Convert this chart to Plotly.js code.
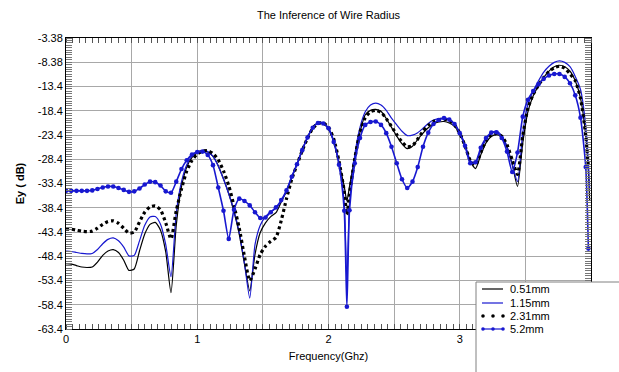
<!DOCTYPE html>
<html>
<head>
<meta charset="utf-8">
<script src="https://cdn.plot.ly/plotly-3.0.1.min.js"></script>
<style>html,body{margin:0;padding:0;background:#fff;}#chart{width:619px;height:372px;}</style>
</head>
<body>
<div id="chart"></div>
<script>
const freq = [0.00,0.04,0.08,0.12,0.16,0.20,0.24,0.28,0.32,0.36,0.40,0.44,0.48,0.52,0.56,0.60,0.64,0.68,0.72,0.76,
0.80,0.84,0.88,0.92,0.96,1.00,1.04,1.08,1.12,1.16,1.20,1.24,1.28,1.32,1.36,1.40,1.44,1.48,1.52,1.56,
1.60,1.64,1.68,1.72,1.76,1.80,1.84,1.88,1.92,1.96,2.00,2.04,2.08,2.12,2.14,2.16,2.20,2.24,2.28,2.32,
2.36,2.40,2.44,2.48,2.52,2.56,2.60,2.64,2.68,2.72,2.76,2.80,2.84,2.88,2.92,2.96,3.00,3.04,3.08,3.12,
3.16,3.20,3.24,3.28,3.32,3.36,3.40,3.44,3.48,3.52,3.56,3.60,3.64,3.68,3.72,3.76,3.80,3.84,3.88,3.92,
3.96,3.98,3.99];

const ey051 = [-49.9,-50.0,-50.3,-50.6,-50.7,-50.6,-49.6,-48.2,-47.3,-47.0,-47.6,-49.2,-51.3,-51.0,-47.3,-43.8,-41.8,-41.4,-43.0,-47.5,
-55.9,-42.0,-34.0,-30.0,-28.0,-27.1,-26.7,-26.9,-27.8,-29.7,-32.4,-35.5,-39.2,-43.8,-50.0,-55.5,-48.0,-43.5,-41.5,-40.2,
-39.4,-37.2,-35.0,-32.2,-29.4,-26.5,-23.9,-21.9,-20.9,-21.0,-22.2,-24.8,-29.2,-34.0,-37.0,-34.0,-28.0,-22.8,-19.2,-18.3,
-18.1,-18.5,-20.0,-21.8,-23.6,-25.2,-26.2,-25.7,-24.3,-23.0,-21.9,-21.1,-20.7,-20.6,-20.9,-21.6,-23.2,-25.5,-28.8,-30.3,
-27.5,-25.0,-23.7,-23.3,-23.8,-25.8,-29.5,-34.0,-25.0,-18.5,-15.3,-13.2,-11.5,-10.2,-9.3,-9.0,-9.3,-10.2,-12.2,-15.8,
-23.5,-31.0,-37.0];

const ey115 = [-47.3,-47.4,-47.6,-47.8,-47.9,-47.8,-47.0,-45.8,-44.9,-44.6,-45.2,-46.5,-48.3,-48.2,-45.2,-42.0,-40.3,-40.2,-41.8,-46.0,
-52.6,-39.5,-33.0,-29.5,-27.7,-26.9,-26.6,-26.8,-27.8,-29.8,-32.5,-35.5,-39.0,-43.5,-49.9,-57.0,-46.0,-42.0,-40.2,-39.2,
-38.5,-37.0,-34.8,-32.0,-29.3,-26.4,-23.8,-21.8,-20.8,-20.9,-22.0,-24.6,-29.0,-37.5,-53.7,-37.5,-27.5,-21.8,-18.6,-17.2,
-16.8,-17.2,-18.3,-19.9,-21.3,-22.6,-23.5,-23.4,-22.9,-22.0,-21.0,-20.3,-20.0,-19.9,-20.2,-21.1,-22.8,-25.3,-28.6,-29.3,
-26.5,-24.3,-23.0,-22.6,-23.5,-25.8,-29.5,-33.0,-23.0,-17.0,-14.3,-12.2,-10.4,-9.2,-8.4,-8.1,-8.4,-9.3,-11.3,-14.0,
-21.5,-29.0,-34.5];

const ey231 = [-42.8,-42.8,-43.0,-43.2,-43.3,-43.2,-42.6,-41.8,-41.2,-41.1,-41.6,-42.6,-43.6,-43.4,-41.3,-39.3,-38.2,-38.0,-38.8,-41.5,
-44.8,-39.0,-34.5,-30.8,-28.6,-27.3,-26.7,-26.6,-27.2,-28.5,-30.8,-33.8,-38.0,-42.6,-48.5,-53.4,-51.0,-48.0,-46.3,-45.3,
-44.5,-41.0,-36.5,-32.5,-29.5,-26.6,-24.0,-22.0,-21.0,-20.9,-21.8,-24.2,-28.8,-35.0,-39.8,-35.5,-28.3,-22.8,-19.8,-18.6,
-18.3,-18.7,-20.0,-21.6,-23.3,-24.8,-25.8,-25.6,-24.2,-22.6,-21.4,-20.6,-20.2,-20.1,-20.4,-21.3,-23.0,-25.6,-28.6,-29.6,
-27.0,-24.6,-23.4,-23.1,-23.6,-25.4,-28.5,-31.5,-23.5,-17.8,-15.0,-13.1,-11.5,-10.3,-9.5,-9.2,-9.6,-10.8,-12.2,-15.8,
-23.5,-30.0,null];

const ey52 = [-34.9,-34.9,-34.9,-34.9,-34.9,-34.8,-34.5,-34.2,-34.0,-34.0,-34.3,-34.7,-35.1,-35.0,-34.4,-33.6,-33.0,-33.1,-33.8,-35.0,
-35.3,-33.0,-30.4,-28.6,-27.4,-26.9,-26.8,-27.5,-29.6,-34.2,-39.0,-44.8,-38.8,-36.5,-37.0,-37.9,-39.3,-40.5,-40.4,-39.3,
-38.3,-36.8,-34.8,-32.0,-29.4,-26.5,-23.9,-21.9,-20.9,-21.0,-22.0,-24.8,-29.5,-39.0,-58.8,-38.9,-29.2,-24.0,-21.3,-20.7,
-20.6,-21.3,-23.0,-25.8,-29.2,-32.5,-34.3,-33.0,-30.0,-25.8,-22.9,-21.1,-20.3,-19.9,-20.2,-21.1,-23.0,-25.6,-29.2,-29.0,
-26.0,-24.0,-22.9,-22.8,-24.0,-26.8,-31.0,-27.0,-19.6,-16.1,-14.3,-12.9,-11.8,-11.1,-10.8,-10.8,-11.4,-12.7,-15.2,-19.8,
-30.0,-46.8,null];

const seriesNames = ['0.51mm','1.15mm','2.31mm','5.2mm'];
const yTickVals = [-3.38,-8.38,-13.38,-18.38,-23.38,-28.38,-33.38,-38.38,-43.38,-48.38,-53.38,-58.38,-63.38];
const yTickText = ['-3.38','-8.38','-13.4','-18.4','-23.4','-28.4','-33.4','-38.4','-43.4','-48.4','-53.4','-58.4','-63.4'];
const xTickVals = [0,0.5,1,1.5,2,2.5,3,3.5];
const xTickText = ['0','','1','','2','','3',''];

const BLUE = '#1818d0';
const traces = [
  {x: freq, y: ey051, name: seriesNames[0], mode:'lines', line:{color:'#000000', width:1.2, shape:'spline', smoothing:0.6}},
  {x: freq, y: ey115, name: seriesNames[1], mode:'lines', line:{color:BLUE, width:1.2, shape:'spline', smoothing:0.6}},
  {x: freq, y: ey231, name: seriesNames[2], mode:'lines', line:{color:'#000000', width:3.2, dash:'3px,3px', shape:'spline', smoothing:0.6}},
  {x: freq, y: ey52, name: seriesNames[3], mode:'lines+markers', line:{color:BLUE, width:1.6, shape:'spline', smoothing:0.6}, marker:{color:BLUE, size:4.6}}
];

// custom legend geometry (pixel -> paper)
const L = 66, T = 38, PW = 525, PH = 291;
const px = v => (v - L) / PW;
const py = v => (T + PH - v) / PH;
const shapes = [
  {type:'rect', xref:'paper', yref:'paper', x0:px(476), x1:px(640), y0:py(400), y1:py(282), fillcolor:'#ffffff', line:{color:'#808080', width:1}, layer:'above'}
];
const annotations = [];
const rowY = [289, 303, 316, 329];
seriesNames.forEach((nm, i) => {
  const yy = py(rowY[i]);
  if (i === 0 || i === 1 || i === 3) {
    shapes.push({type:'line', xref:'paper', yref:'paper', x0:px(482), x1:px(503), y0:yy, y1:yy, line:{color: i===0 ? '#000' : BLUE, width:1.2}, layer:'above'});
  }
  if (i === 2 || i === 3) {
    [483, 493, 503].forEach(cx => {
      const r = 1.8;
      shapes.push({type:'circle', xref:'paper', yref:'paper', x0:px(cx - r), x1:px(cx + r), y0:py(rowY[i] + r), y1:py(rowY[i] - r), fillcolor: i===2 ? '#000' : BLUE, line:{width:0}, layer:'above'});
    });
  }
  annotations.push({xref:'paper', yref:'paper', x:px(508), y:yy, xanchor:'left', yanchor:'middle', showarrow:false, text:nm, font:{family:'Liberation Sans, Arial, sans-serif', size:11, color:'#000'}});
});

const FONT = 'Liberation Sans, Arial, sans-serif';
const layout = {
  width: 619, height: 372,
  margin: {l:L, r:28, t:T, b:43},
  paper_bgcolor:'#ffffff', plot_bgcolor:'#ffffff',
  showlegend:false,
  font:{family:FONT, size:11, color:'#000'},
  title:{text:'The Inference of Wire Radius', font:{family:FONT, size:11, color:'#000'}, xref:'paper', x:0.5, xanchor:'center', yref:'container', y:1-15/372, yanchor:'middle'},
  xaxis:{range:[0,4], tickmode:'array', tickvals:xTickVals, ticktext:xTickText, showgrid:true, gridcolor:'#a8a8a8', gridwidth:1,
    showline:true, linecolor:'#000', linewidth:1, mirror:'ticks', ticks:'', zeroline:false,
    tickfont:{family:FONT, size:11, color:'#000'},
    minor:{dtick:0.05, tick0:0, ticks:'inside', ticklen:5, tickcolor:'#555', tickwidth:1, showgrid:false},
    title:{text:'Frequency(Ghz)', font:{family:FONT, size:11, color:'#000'}, standoff:8}},
  yaxis:{range:[-63.38,-3.38], tickmode:'array', tickvals:yTickVals, ticktext:yTickText, showgrid:true, gridcolor:'#a8a8a8', gridwidth:1,
    showline:true, linecolor:'#000', linewidth:1, mirror:'ticks', ticks:'', zeroline:false,
    tickfont:{family:FONT, size:11, color:'#000'},
    minor:{dtick:0.5, tick0:-3.38, ticks:'inside', ticklen:6, tickcolor:'#777', tickwidth:1, showgrid:false},
    title:{text:'<b>Ey ( dB)</b>', font:{family:FONT, size:11, color:'#000'}, standoff:10}},
  shapes: shapes,
  annotations: annotations
};
Plotly.newPlot('chart', traces, layout, {displayModeBar:false, staticPlot:true});
</script>
</body>
</html>
